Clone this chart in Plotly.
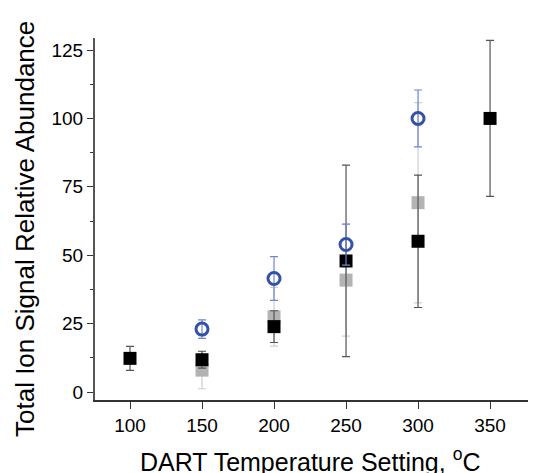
import plotly.graph_objects as go

# Data
temps_black = [100, 150, 200, 250, 300, 350]
black_vals = [12.3, 11.8, 23.9, 47.9, 55.1, 100.0]
black_err = [4.4, 3.1, 5.8, 35.0, 24.2, 28.5]

temps_gray = [150, 200, 250, 300]
gray_vals = [8.0, 27.5, 40.9, 69.2]
gray_err = [6.8, 10.7, 20.5, 36.6]

temps_blue = [150, 200, 250, 300]
blue_vals = [23.0, 41.5, 53.9, 100.0]
blue_err = [3.4, 8.0, 7.5, 10.4]

x_ticks = [100, 150, 200, 250, 300, 350]
y_ticks = [0, 25, 50, 75, 100, 125]

fig = go.Figure()

fig.add_trace(go.Scatter(
    x=temps_gray, y=gray_vals, mode="markers",
    marker=dict(symbol="square", size=13, color="#b3b3b3", line=dict(width=0)),
    error_y=dict(type="data", array=gray_err, visible=True, color="#cfcfcf", thickness=1.2, width=4),
    showlegend=False,
))
fig.add_trace(go.Scatter(
    x=temps_black, y=black_vals, mode="markers",
    marker=dict(symbol="square", size=13, color="#000000", line=dict(width=0)),
    error_y=dict(type="data", array=black_err, visible=True, color="#555555", thickness=1.2, width=4),
    showlegend=False,
))
fig.add_trace(go.Scatter(
    x=temps_blue, y=blue_vals, mode="markers",
    marker=dict(symbol="circle-open", size=12, color="#3450a8", line=dict(width=3, color="#3450a8")),
    error_y=dict(type="data", array=blue_err, visible=True, color="#7086d0", thickness=1.2, width=4),
    showlegend=False,
))

font = "Liberation Sans, Arial, sans-serif"

fig.update_layout(
    width=528, height=465,
    margin=dict(l=87, r=0, t=30, b=73),
    plot_bgcolor="white", paper_bgcolor="white",
    font=dict(family=font, color="black"),
    xaxis=dict(
        range=[75.7, 381.9], tickvals=x_ticks, ticktext=[str(v) for v in x_ticks],
        showgrid=False, zeroline=False, showline=True, linecolor="#333333", linewidth=1.5,
        ticks="outside", ticklen=7, tickwidth=1.2, tickcolor="#333333",
        tickfont=dict(size=19, family=font, color="black"),
    ),
    yaxis=dict(
        range=[-2.92, 129.4], tickvals=y_ticks, ticktext=[str(v) for v in y_ticks],
        showgrid=False, zeroline=False, showline=True, linecolor="#555555", linewidth=2,
        ticks="outside", ticklen=6, tickwidth=1.2, tickcolor="#333333",
        tickfont=dict(size=19, family=font, color="black"),
        minor=dict(tickvals=[12.5, 37.5, 62.5, 87.5, 112.5], ticks="outside", ticklen=3, tickwidth=1.2, tickcolor="#333333"),
    ),
    annotations=[
        dict(text="Total Ion Signal Relative Abundance", xref="paper", yref="paper",
             x=-0.159, y=0.472, xanchor="center", yanchor="middle", textangle=-90,
             showarrow=False, font=dict(size=26, family=font, color="black")),
        dict(text="DART Temperature Setting, <sup>o</sup>C", xref="paper", yref="paper",
             x=0.4875, y=-0.165, xanchor="center", yanchor="middle",
             showarrow=False, font=dict(size=25, family=font, color="black")),
    ],
)

fig.write_html("out.html")
